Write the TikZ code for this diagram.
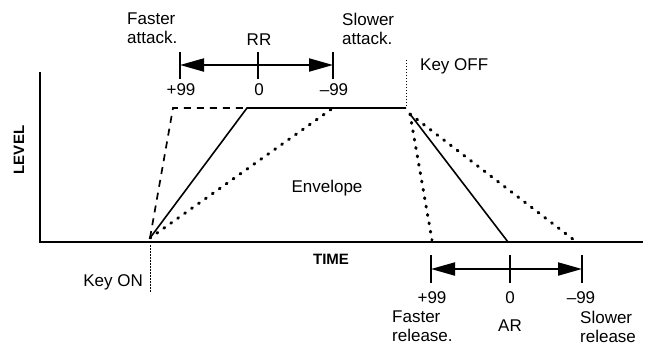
\documentclass[tikz,border=0pt]{standalone}
\usepackage{fontspec}
\setmainfont{Liberation Sans}
\usetikzlibrary{arrows.meta,positioning}

\begin{document}
\begin{tikzpicture}[
    x=1pt, y=-1pt,
    every node/.style={font=\fontsize{17}{19}\selectfont, inner sep=0pt},
    lbl/.style={align=left},
    env/.style={line width=1.6pt},
    envdash/.style={line width=1.7pt, dash pattern=on 7pt off 6pt},
    envdot/.style={line width=3pt, line cap=round, dash pattern=on 1pt off 7.5pt},
    marker/.style={line width=1pt, dash pattern=on 1.5pt off 1.5pt},
    bar/.style={line width=2pt, {Triangle[length=24pt,width=13pt]}-{Triangle[length=24pt,width=13pt]}},
    tick/.style={line width=1.6pt}
]
    \useasboundingbox (0,0) rectangle (645,346);

    % axes
    \coordinate (top) at (40,72);
    \coordinate (origin) at (40,242);
    \coordinate (right) at (643,242);
    \draw[line width=2.2pt] (top) -- (origin) -- (right);
    \node[rotate=90, font=\fontsize{15}{17}\selectfont\bfseries] (level) at (19,150) {LEVEL};
    \node[font=\fontsize{15}{17}\selectfont\bfseries] (time) at (331,259) {TIME};

    % envelope points
    \coordinate (on) at (150,238);
    \coordinate (fast) at (173,108);
    \coordinate (peak) at (247,108);
    \coordinate (slow) at (333,108);
    \coordinate (off) at (406,108);
    \coordinate (rel) at (410,114);
    \coordinate (fastend) at (432,240);
    \coordinate (midend) at (508,242);
    \coordinate (slowend) at (574,240);

    \draw[env] (on) -- (peak) -- (off);
    \draw[envdash] (on) -- (fast) -- (peak);
    \draw[envdot] (on) -- (slow);
    \draw[env] (rel) -- (midend);
    \draw[envdot] (rel) -- (fastend);
    \draw[envdot] (rel) -- (slowend);
    \node (envelope) at (327,188) {Envelope};

    % key markers
    \coordinate (onlow) at (150,292);
    \coordinate (offtop) at (406,60);
    \draw[marker] (on) ++(0,7) -- (onlow);
    \draw[marker] (off) ++(0,-2) -- (offtop);
    \node[left=7pt of onlow, anchor=east, yshift=10pt] (keyon) {Key ON};
    \node[anchor=west] (keyoff) at (420,66) {Key OFF};

    % RR bar
    \coordinate (rrl) at (180,65);
    \coordinate (rrm) at (258,65);
    \coordinate (rrr) at (333,65);
    \draw[bar] (rrl) -- (rrr);
    \foreach \p in {rrl,rrm,rrr}
        \draw[tick] (\p) ++(0,-13) -- ++(0,27);
    \node (rrp) at (181,90) {+99};
    \node (rrz) at (259,90) {0};
    \node (rrn) at (334,90) {--99};
    \node (rr) at (259,40) {RR};
    \node[lbl, anchor=north west] (fastatk) at (127,13) {Faster\\attack.};
    \node[lbl, anchor=north west] (slowatk) at (342,13) {Slower\\attack.};

    % AR bar
    \coordinate (arl) at (431,269);
    \coordinate (arm) at (510,269);
    \coordinate (arr) at (582,269);
    \draw[bar] (arl) -- (arr);
    \foreach \p in {arl,arm,arr}
        \draw[tick] (\p) ++(0,-14) -- ++(0,28);
    \node (arp) at (432,298) {+99};
    \node (arz) at (510,298) {0};
    \node (arn) at (581,298) {--99};
    \node (ar) at (510,326) {AR};
    \node[lbl, anchor=north west] (fastrel) at (392,311) {Faster\\release.};
    \node[lbl, anchor=north west] (slowrel) at (580,311) {Slower\\release};
\end{tikzpicture}
\end{document}
